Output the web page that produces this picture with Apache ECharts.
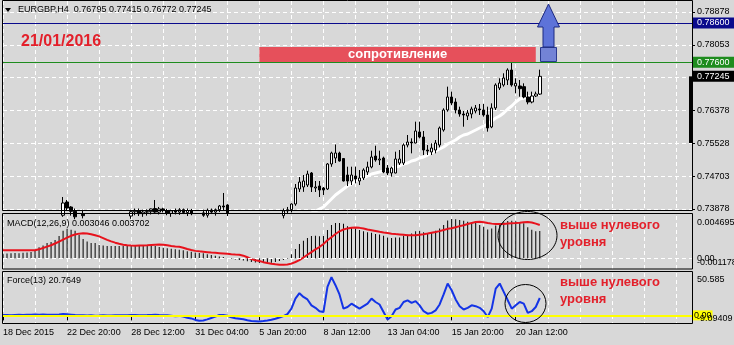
<!DOCTYPE html>
<html>
<head>
<meta charset="utf-8">
<script src="https://cdn.jsdelivr.net/npm/echarts@6/dist/echarts.min.js"></script>
<style>
  html, body { margin: 0; padding: 0; background: #d8d8d8; }
  #chart { width: 734px; height: 345px; }
</style>
</head>
<body>
<div id="chart"></div>
<script>
// EURGBP H4 candles, one row per bar: [open, high, low, close]
const candles = [
  [0.7262,0.7281,0.7255,0.7276],[0.7276,0.7290,0.7268,0.7284],[0.7284,0.7296,0.7275,0.7279],[0.7279,0.7298,0.7272,0.7293],
  [0.7293,0.7305,0.7285,0.7301],[0.7301,0.7310,0.7292,0.7297],[0.7297,0.7312,0.7290,0.7308],[0.7308,0.7322,0.7301,0.7318],
  [0.7318,0.7335,0.7312,0.7331],[0.7331,0.7342,0.7322,0.7337],[0.7337,0.7351,0.7330,0.7346],[0.7346,0.7358,0.7338,0.7352],
  [0.7352,0.7362,0.7341,0.7349],[0.7349,0.7366,0.7344,0.7361],[0.7361,0.7379,0.7355,0.7372],[0.7372,0.74183,0.7368,0.74031],
  [0.74056,0.74107,0.7385,0.73904],[0.73929,0.7395,0.7371,0.7382],[0.7382,0.7389,0.7362,0.7368],[0.7368,0.7380,0.7358,0.7375],
  [0.7375,0.7386,0.7364,0.7371],[0.7371,0.7382,0.7360,0.7366],[0.7366,0.7377,0.7355,0.7372],[0.7372,0.7381,0.7361,0.7363],
  [0.7363,0.7375,0.7354,0.7369],[0.7369,0.7378,0.7358,0.7361],[0.7361,0.7372,0.7352,0.7368],[0.7368,0.7380,0.7360,0.7373],
  [0.7373,0.7384,0.7364,0.7367],[0.7367,0.7378,0.7356,0.7371],[0.7371,0.7382,0.7362,0.7375],[0.7375,0.7385,0.7366,0.7370],
  [0.7370,0.7386,0.7363,0.7381],[0.7381,0.7389,0.7372,0.7384],[0.7384,0.7389,0.7370,0.7376],[0.7376,0.7386,0.7368,0.7380],
  [0.7380,0.7387,0.7371,0.7381],[0.7381,0.7389,0.7374,0.7388],[0.7389,0.74107,0.7376,0.7380],[0.7380,0.7393,0.7374,0.7388],
  [0.7388,0.7391,0.7379,0.7384],[0.7384,0.7388,0.7372,0.7377],[0.7377,0.7386,0.7368,0.7383],[0.7383,0.7389,0.7374,0.7380],
  [0.7380,0.7390,0.7373,0.7386],[0.7386,0.7389,0.7375,0.7379],[0.7379,0.7389,0.7370,0.7384],[0.7384,0.7388,0.7372,0.7376],
  [0.7376,0.7385,0.7365,0.7370],[0.7370,0.7381,0.7362,0.7378],[0.7378,0.7386,0.7368,0.7372],[0.7372,0.7389,0.7366,0.7385],
  [0.7385,0.7389,0.7375,0.7380],[0.7380,0.7389,0.7371,0.7386],[0.7386,0.7398,0.7380,0.73955],[0.73955,0.74285,0.7385,0.7393],
  [0.7398,0.7400,0.7370,0.7378],[0.7378,0.7384,0.7360,0.7364],[0.7364,0.7372,0.7350,0.7356],[0.7356,0.7366,0.7344,0.7361],
  [0.7361,0.7368,0.7342,0.7348],[0.7348,0.7357,0.7334,0.7340],[0.7340,0.7352,0.7329,0.7346],[0.7346,0.7355,0.7331,0.7337],
  [0.7337,0.7349,0.7325,0.7342],[0.7342,0.7356,0.7333,0.7351],[0.7351,0.7362,0.7340,0.7345],[0.7345,0.7360,0.7338,0.7356],
  [0.7356,0.7370,0.7349,0.7364],[0.7364,0.7378,0.7355,0.7371],[0.7371,0.7389,0.7364,0.7383],[0.7383,0.7393,0.7375,0.7386],
  [0.7386,0.7402,0.7379,0.74005],[0.74005,0.74513,0.7396,0.74411],[0.74386,0.74690,0.74310,0.74563],[0.74437,0.74741,0.74314,0.74589],
  [0.74487,0.74850,0.74437,0.74766],[0.74792,0.74817,0.74310,0.74437],[0.74411,0.74589,0.74310,0.74437],[0.74462,0.74589,0.74183,0.74361],
  [0.74411,0.74437,0.74234,0.74361],[0.74386,0.75045,0.74361,0.75020],[0.75020,0.75333,0.74950,0.75299],[0.75172,0.75516,0.75045,0.75299],
  [0.75299,0.75333,0.75083,0.75096],[0.75160,0.75172,0.74576,0.74589],[0.74741,0.74952,0.74462,0.74589],[0.74589,0.74952,0.74487,0.74741],
  [0.74716,0.74952,0.74530,0.74640],[0.74589,0.74868,0.74487,0.74665],[0.74665,0.74911,0.74614,0.74868],[0.74817,0.75079,0.74741,0.74944],
  [0.74944,0.75358,0.74911,0.75198],[0.75223,0.75485,0.75079,0.75122],[0.75122,0.75358,0.74995,0.75147],[0.75172,0.75206,0.74788,0.74817],
  [0.74919,0.74995,0.74741,0.74792],[0.74792,0.74952,0.74699,0.74919],[0.74792,0.75333,0.74783,0.75147],[0.75045,0.75375,0.74995,0.75147],
  [0.75045,0.75544,0.74995,0.75502],[0.75502,0.75756,0.75443,0.75578],[0.75578,0.75672,0.75291,0.75553],[0.75553,0.76095,0.75545,0.75858],
  [0.75833,0.76095,0.75672,0.75705],[0.75705,0.75858,0.75248,0.75375],[0.75375,0.75502,0.75248,0.75350],[0.75325,0.75545,0.75248,0.75426],
  [0.75375,0.75629,0.75291,0.75553],[0.75502,0.75972,0.75443,0.75934],[0.75883,0.76434,0.75841,0.76391],[0.76391,0.76983,0.76348,0.76721],
  [0.76721,0.76856,0.76518,0.76569],[0.76594,0.76688,0.76306,0.76391],[0.76391,0.76475,0.76221,0.76289],[0.76289,0.76365,0.75967,0.76264],
  [0.76239,0.76391,0.76137,0.76315],[0.76289,0.76475,0.76180,0.76416],[0.76365,0.76518,0.76306,0.76442],[0.76416,0.76543,0.76264,0.76391],
  [0.76391,0.76543,0.76221,0.76264],[0.76264,0.76475,0.75841,0.75934],[0.75960,0.76560,0.75930,0.76442],[0.76442,0.77068,0.76391,0.77025],
  [0.76949,0.77195,0.76898,0.77076],[0.77025,0.77322,0.76983,0.77203],[0.77152,0.77449,0.77025,0.77406],[0.77406,0.77605,0.76983,0.77025],
  [0.77000,0.77195,0.76814,0.77068],[0.77000,0.77152,0.76729,0.76932],[0.76983,0.77068,0.76688,0.76721],[0.76721,0.76856,0.76535,0.76594],
  [0.76594,0.76856,0.76560,0.76746],[0.76746,0.76856,0.76721,0.76797],[0.76795,0.77415,0.76772,0.77245]
];

// Moving average (white line), starting at bar MA_FIRST_BAR
const MA_FIRST_BAR = 75;
const maValues = [
  0.7368,0.7373,0.73777,0.73827,0.73878,0.73929,
  0.74031,0.74132,0.74234,0.74310,0.74386,0.74462,0.74513,0.74589,0.74640,0.74665,
  0.74716,0.74766,0.74792,0.74817,0.74843,0.74868,0.74919,0.74944,0.74970,0.75020,
  0.75045,0.75096,0.75122,0.75172,0.75198,0.75248,0.75299,0.75350,0.75401,0.75452,
  0.75528,0.75578,0.75629,0.75705,0.75756,0.75781,0.75833,0.75883,0.75934,0.75985,
  0.76036,0.76112,0.76188,0.76239,0.76315,0.76416,0.76493,0.76594,0.76670,0.76696,
  0.76721,0.76747,0.76772,0.76797
];

// MACD(12,26,9): histogram and signal line
const macdHist = [
  0.00052,0.00055,0.00057,0.00060,0.00058,0.00062,0.00065,0.00070,
  0.00085,0.00124,0.00142,0.00170,0.00181,0.00203,0.00249,0.00305,
  0.00328,0.00316,0.00305,0.00260,0.00215,0.00188,0.00170,0.00170,
  0.00147,0.00142,0.00136,0.00136,0.00136,0.00138,0.00136,0.00140,
  0.00138,0.00141,0.00139,0.00137,0.00140,0.00142,0.00136,0.00125,
  0.00118,0.00113,0.00107,0.00102,0.00096,0.00090,0.00079,0.00072,
  0.00065,0.00060,0.00056,0.00045,0.00036,0.00028,0.00020,0.00014,
  0.00005,-0.00005,-0.00012,-0.00018,-0.00024,-0.00032,-0.00040,-0.00045,
  -0.00050,-0.00052,-0.00050,-0.00048,-0.00040,-0.00030,-0.00018,-0.00005,
  0.00045,0.00105,0.00158,0.00195,0.00225,0.00247,0.00250,0.00245,
  0.00248,0.00315,0.00370,0.00391,0.00393,0.00385,0.00355,0.00340,
  0.00330,0.00315,0.00300,0.00290,0.00285,0.00270,0.00265,0.00250,
  0.00232,0.00225,0.00230,0.00232,0.00250,0.00262,0.00275,0.00300,
  0.00305,0.00290,0.00280,0.00290,0.00305,0.00330,0.00370,0.00420,
  0.00436,0.00434,0.00425,0.00418,0.00406,0.00400,0.00395,0.00370,
  0.00350,0.00320,0.00330,0.00365,0.00380,0.00400,0.00415,0.00418,
  0.00410,0.00400,0.00390,0.00345,0.00318,0.00300,0.003046
];
const macdSignal = [
  0.00089,0.00089,0.00089,0.00089,0.00089,0.00089,0.00089,0.00089,0.00089,
  0.00100,0.00115,0.00130,0.00145,0.00165,0.00186,0.00208,0.00230,0.00250,0.00265,0.00274,
  0.00278,0.00276,0.00268,0.00257,0.00244,0.00225,0.00205,0.00188,0.00174,0.00162,
  0.00152,0.00145,0.00142,0.00141,0.00142,0.00143,0.00145,0.00148,0.00151,0.00154,
  0.00152,0.00145,0.00138,0.00132,0.00128,0.00118,0.00104,0.00092,0.00083,0.00078,
  0.00074,0.00069,0.00064,0.00061,0.00058,0.00055,0.00050,0.00045,0.00042,0.00040,
  0.00030,0.00012,-0.00008,-0.00020,-0.00030,-0.00042,-0.00052,-0.00060,-0.00066,-0.00071,
  -0.00072,-0.00068,-0.00058,-0.00040,-0.00020,0.00010,0.00040,0.00070,0.00100,0.00125,
  0.00160,0.00200,0.00235,0.00270,0.00300,0.00320,0.00332,0.00340,0.00342,0.00338,
  0.00330,0.00320,0.00312,0.00303,0.00294,0.00286,0.00280,0.00274,0.00269,0.00265,
  0.00261,0.00257,0.00255,0.00257,0.00262,0.00267,0.00275,0.00284,0.00292,0.00302,
  0.00315,0.00327,0.00333,0.00345,0.00357,0.00368,0.00380,0.00392,0.00402,0.00405,
  0.00400,0.00392,0.00385,0.00380,0.00380,0.00382,0.00386,0.00390,0.00392,0.00395,
  0.00400,0.00404,0.00398,0.00385,0.003702
];

// Force Index(13)
const forceValues = [
  0.4,0.6,0.3,0.6,0.8,0.5,0.7,0.9,1.0,0.9,1.0,0.8,0.7,0.9,
  1.2,1.6,1.3,0.9,0.4,
  0.3,0.1,-0.2,0.1,-0.3,-0.1,0.2,0.0,-0.2,0.2,0.1,0.3,
  0.2,0.4,0.5,0.2,0.3,0.4,0.6,0.8,0.5,0.3,0.1,-0.5,-1.1,-0.6,-1.5,-2.8,-3.6,
  -5.4,-6.5,-6.0,-4.8,-3.1,-1.5,
  0.4,0.6,-0.5,-2.2,-3.4,-4.0,-4.6,
  -5.8,-6.6,-6.9,-7.2,-6.8,-6.1,-5.2,-4.0,-2.5,
  -0.8,1.5,
  8.0,20,26.5,22,19,12,9,5,4,
  34,45.6,36,25,8,10,14,11,8,11,
  14,20,16,13,4,-5,-1,7,9,16,
  18,15,17,12,5,2,3,6,13,25,
  38,30,19,11,7,9,12,11,9,5,
  -2,8,32,38,28,18,8,12,16,14,
  3,5,10,20.7649
];

// Time axis: one label every BARS_PER_TICK bars
const BARS_PER_TICK = 16;
const timeTickLabels = ['18 Dec 2015','22 Dec 20:00','28 Dec 12:00','31 Dec 04:00','5 Jan 20:00',
                        '8 Jan 12:00','13 Jan 04:00','15 Jan 20:00','20 Jan 12:00'];

// Price scale ticks and labels
const priceTickValues = [0.73878, 0.74711, 0.75545, 0.76378, 0.77211, 0.78045, 0.78878];
const priceTickLabels = ['0.73878', '0.74703', '0.75528', '0.76378', '', '0.78053', '0.78878'];

// Horizontal levels
const levelBlue = 0.78600;
const levelGreen = 0.77600;
const priceBarRange = [0.77245, 0.75553];

// Resistance zone
const resistanceBars = ['64', '133'];
const resistancePrices = [0.77990, 0.77600];

// Indicator pane scales
const macdRange = [-0.001178, 0.004695];
const macdScaleLabels = ['0.004695', '0.00', '-0.001178'];
const forceRange = [-9.09409, 50.585];
const forceScaleLabels = ['50.585', '-9.09409'];

const SLOT_COUNT = 173;            // bar slots across the chart, incl. empty right shift
const PRICE_MIN = 0.73853, PRICE_MAX = 0.79157;

const categories = [];
for (let i = 0; i < SLOT_COUNT; i++) categories.push(String(i));

const FONT = '"Liberation Sans", Arial, sans-serif';
const last = candles[candles.length - 1];
const maSeries = candles.map((_, i) => i < MA_FIRST_BAR ? null : maValues[i - MA_FIRST_BAR]);

function xAxisFor(gridIndex, withLabels) {
  const isLabelSlot = (i) => i % BARS_PER_TICK === 0 && i / BARS_PER_TICK < timeTickLabels.length;
  return {
    type: 'category', gridIndex, data: categories, boundaryGap: false,
    axisLine: { show: false },
    axisTick: withLabels ? { show: true, interval: (i) => isLabelSlot(i), length: 5, lineStyle: { color: '#000' } } : { show: false },
    axisLabel: withLabels ? {
      show: true, interval: (i) => isLabelSlot(i), align: 'left', margin: 5,
      formatter: (v) => timeTickLabels[Number(v) / BARS_PER_TICK],
      fontSize: 9, fontFamily: FONT, color: '#000'
    } : { show: false },
    splitLine: { show: true, interval: 7, lineStyle: { color: '#ffffff', type: [4, 3], width: 1 } }
  };
}

const tagLabel = (bg, fg) => ({
  show: true, position: 'end', distance: 1, formatter: (p) => Number(p.value).toFixed(5),
  backgroundColor: bg, color: fg, fontSize: 9, fontFamily: FONT, padding: [1, 8, 1, 4]
});

const chart = echarts.init(document.getElementById('chart'));
chart.setOption({
  animation: false,
  backgroundColor: '#d8d8d8',
  grid: [
    { left: 3, right: 42, top: 1, height: 209 },
    { left: 3, right: 42, top: 216, height: 53 },
    { left: 3, right: 42, top: 273, height: 50 }
  ],
  xAxis: [xAxisFor(0, false), xAxisFor(1, false), xAxisFor(2, true)],
  yAxis: [
    {
      type: 'value', gridIndex: 0, position: 'right', min: PRICE_MIN, max: PRICE_MAX,
      axisLine: { show: false },
      axisTick: { show: true, customValues: priceTickValues, length: 3, lineStyle: { color: '#000' } },
      axisLabel: {
        customValues: priceTickValues, margin: 5, fontSize: 9, fontFamily: FONT, color: '#000',
        formatter: (v) => { const k = priceTickValues.findIndex(t => Math.abs(t - v) < 1e-6); return k >= 0 ? priceTickLabels[k] : ''; }
      },
      splitLine: { show: true, lineStyle: { color: '#ffffff', type: [4, 3], width: 1 } }
    },
    { type: 'value', gridIndex: 1, position: 'right', min: macdRange[0], max: macdRange[1],
      axisLine: { show: false }, axisTick: { show: false }, axisLabel: { show: false }, splitLine: { show: false } },
    { type: 'value', gridIndex: 2, position: 'right', min: forceRange[0], max: forceRange[1],
      axisLine: { show: false }, axisTick: { show: false }, axisLabel: { show: false }, splitLine: { show: false } }
  ],
  series: [
    {
      name: 'MA', type: 'line', xAxisIndex: 0, yAxisIndex: 0, data: maSeries, z: 1,
      symbol: 'none', lineStyle: { color: '#ffffff', width: 3 }, silent: true
    },
    {
      name: 'EURGBP', type: 'candlestick', xAxisIndex: 0, yAxisIndex: 0, z: 3,
      data: candles.map(([o, h, l, c]) => [o, c, l, h]),
      barWidth: 3, clip: true,
      itemStyle: { color: '#ffffff', color0: '#000000', borderColor: '#000000', borderColor0: '#000000', borderWidth: 1 },
      markLine: {
        silent: true, symbol: ['none', 'none'], animation: false, precision: 5,
        data: [
          { yAxis: levelBlue, lineStyle: { color: '#0a0a8c', width: 1, type: 'solid' }, label: tagLabel('#0a0a8c', '#ffffff') },
          { yAxis: levelGreen, lineStyle: { color: '#1e8c1e', width: 1, type: 'solid' }, label: tagLabel('#1e8c1e', '#ffffff') },
          { yAxis: last[3], lineStyle: { color: 'rgba(0,0,0,0)', width: 1 }, label: tagLabel('#000000', '#ffffff') }
        ]
      },
      markArea: {
        silent: true,
        itemStyle: { color: '#e6505b', opacity: 1 },
        label: { show: true, position: 'inside', color: '#ffffff', fontWeight: 'bold', fontSize: 13, fontFamily: FONT },
        data: [[
          { name: 'сопротивление', coord: [resistanceBars[0], resistancePrices[0]] },
          { coord: [resistanceBars[1], resistancePrices[1]] }
        ]]
      }
    },
    {
      name: 'price bar', type: 'custom', xAxisIndex: 0, yAxisIndex: 0, silent: true, z: 4,
      data: [[SLOT_COUNT - 1, priceBarRange[0], priceBarRange[1]]],
      renderItem: (params, api) => {
        const top = api.coord([api.value(0), api.value(1)]);
        const bottom = api.coord([api.value(0), api.value(2)]);
        return { type: 'rect', shape: { x: top[0] - 3, y: top[1], width: 4, height: bottom[1] - top[1] }, style: { fill: '#000' } };
      }
    },
    {
      name: 'MACD', type: 'bar', xAxisIndex: 1, yAxisIndex: 1, data: macdHist, barWidth: 1,
      itemStyle: { color: '#000000' }, silent: true,
      markLine: { silent: true, symbol: ['none', 'none'], label: { show: false },
        lineStyle: { color: '#ffffff', type: [4, 3], width: 1 }, data: [{ yAxis: 0 }] }
    },
    {
      name: 'Signal', type: 'line', xAxisIndex: 1, yAxisIndex: 1, data: macdSignal, z: 4,
      symbol: 'none', lineStyle: { color: '#e8121c', width: 2 }, silent: true
    },
    {
      name: 'Force', type: 'line', xAxisIndex: 2, yAxisIndex: 2, data: forceValues, z: 3,
      symbol: 'none', lineStyle: { color: '#1434e6', width: 2 }, silent: true,
      markLine: {
        silent: true, symbol: ['none', 'none'], precision: 2,
        lineStyle: { color: '#ffff00', width: 2, type: 'solid' },
        label: { show: true, position: 'end', distance: 1, formatter: '0.00', backgroundColor: '#ffff00',
                 color: '#000', fontSize: 9, fontFamily: FONT, padding: [1, 1, 0, 1] },
        data: [{ yAxis: 0 }]
      }
    }
  ]
});

// Pixel helpers for the indicator pane scale labels
const yPx = (axisIndex, v) => chart.convertToPixel({ yAxisIndex: axisIndex }, v);
const txt = (text, x, y, opts) => Object.assign({ type: 'text', silent: true, z: 50,
  style: Object.assign({ text, x, y, fill: '#000', font: '9px ' + FONT, verticalAlign: 'middle' }, opts || {}) });

const scaleX = 697;
const graphics = [
  // pane frames
  { type: 'rect', silent: true, z: 40, shape: { x: 2.5, y: 0.5, width: 690, height: 210 }, style: { fill: 'none', stroke: '#000', lineWidth: 1 } },
  { type: 'rect', silent: true, z: 40, shape: { x: 2.5, y: 213.5, width: 690, height: 55.5 }, style: { fill: 'none', stroke: '#000', lineWidth: 1 } },
  { type: 'rect', silent: true, z: 40, shape: { x: 2.5, y: 271.5, width: 690, height: 52 }, style: { fill: 'none', stroke: '#000', lineWidth: 1 } },
  // header
  { type: 'polygon', silent: true, z: 50, shape: { points: [[5, 8], [11, 8], [8, 12]] }, style: { fill: '#000' } },
  txt('EURGBP,H4  ' + last.map(v => v.toFixed(5)).join(' '), 18, 10, { font: '9px ' + FONT }),
  txt('MACD(12,26,9) ' + macdHist[macdHist.length - 1].toFixed(6) + ' ' + macdSignal[macdSignal.length - 1].toFixed(6), 7, 224),
  txt('Force(13) ' + forceValues[forceValues.length - 1].toFixed(4), 7, 281),
  // indicator scale labels
  txt(macdScaleLabels[0], scaleX, yPx(1, macdRange[1]) + 2, { verticalAlign: 'top' }),
  txt(macdScaleLabels[1], scaleX, yPx(1, 0)),
  txt(macdScaleLabels[2], scaleX, yPx(1, macdRange[0]) - 2, { verticalAlign: 'bottom' }),
  txt(forceScaleLabels[0], scaleX, yPx(2, forceRange[1]) + 2, { verticalAlign: 'top' }),
  txt(forceScaleLabels[1], scaleX, yPx(2, forceRange[0]), { verticalAlign: 'bottom' }),
  // annotations
  txt('21/01/2016', 21, 42, { font: 'bold 16px ' + FONT, fill: '#e3202b' }),
  { type: 'rect', silent: true, z: 45, shape: { x: 540.5, y: 47.5, width: 16, height: 14 }, style: { fill: '#7383d6', stroke: '#2b3a8f', lineWidth: 1 } },
  { type: 'polygon', silent: true, z: 45, shape: { points: [[548.5, 4], [559.5, 27], [554, 27], [554, 47], [543, 47], [543, 27], [537.5, 27]] },
    style: { fill: '#5d73d9', stroke: '#1d2a80', lineWidth: 1 } },
  { type: 'ellipse', silent: true, z: 45, shape: { cx: 527.5, cy: 235.5, rx: 29.5, ry: 24 }, style: { fill: 'none', stroke: '#000', lineWidth: 1 } },
  { type: 'ellipse', silent: true, z: 45, shape: { cx: 525.5, cy: 303.5, rx: 20.5, ry: 19 }, style: { fill: 'none', stroke: '#000', lineWidth: 1 } },
  txt('выше нулевого', 560, 225, { font: 'bold 13px ' + FONT, fill: '#e3202b' }),
  txt('уровня', 560, 242, { font: 'bold 13px ' + FONT, fill: '#e3202b' }),
  txt('выше нулевого', 560, 282, { font: 'bold 13px ' + FONT, fill: '#e3202b' }),
  txt('уровня', 560, 299, { font: 'bold 13px ' + FONT, fill: '#e3202b' })
];
chart.setOption({ graphic: graphics });
</script>
</body>
</html>
